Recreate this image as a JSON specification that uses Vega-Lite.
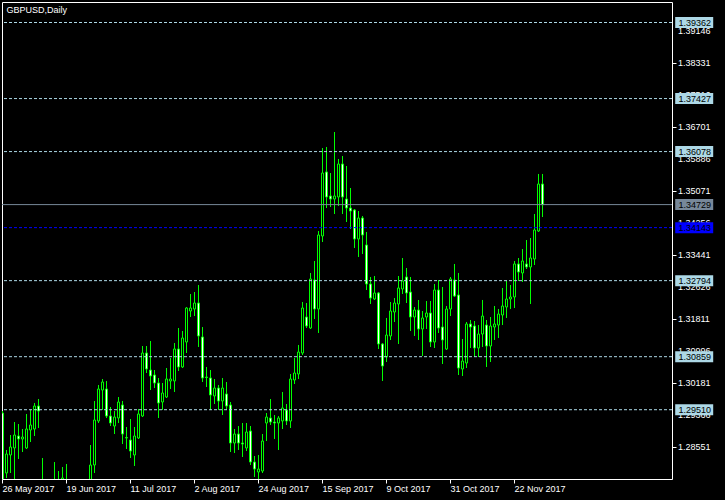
{
  "$schema": "https://vega.github.io/schema/vega-lite/v6.json",
  "background": "black",
  "padding": {"left": 1, "top": 1, "right": 14, "bottom": 10},
  "bounds": "flush",
  "spacing": 0,
  "config": {
    "font": "Liberation Sans",
    "view": {"stroke": "white", "strokeWidth": 1}
  },
  "datasets": {
    "candles": [
      {"date":"2017-05-26","open":1.29426,"high":1.29477,"low":1.27417,"close":1.27518},
      {"date":"2017-05-29","open":1.27900,"high":1.28485,"low":1.27772,"close":1.28383},
      {"date":"2017-05-30","open":1.28358,"high":1.28866,"low":1.27900,"close":1.28561},
      {"date":"2017-05-31","open":1.28536,"high":1.29197,"low":1.27594,"close":1.28866},
      {"date":"2017-06-01","open":1.28841,"high":1.29146,"low":1.28256,"close":1.28765},
      {"date":"2017-06-02","open":1.28765,"high":1.29019,"low":1.28434,"close":1.28815},
      {"date":"2017-06-05","open":1.28536,"high":1.29401,"low":1.28510,"close":1.29019},
      {"date":"2017-06-06","open":1.28994,"high":1.29503,"low":1.28688,"close":1.29121},
      {"date":"2017-06-07","open":1.29019,"high":1.29681,"low":1.28841,"close":1.29604},
      {"date":"2017-06-08","open":1.29604,"high":1.29782,"low":1.29045,"close":1.29477},
      {"date":"2017-06-09","open":1.27500,"high":1.28281,"low":1.26350,"close":1.27450},
      {"date":"2017-06-12","open":1.27450,"high":1.27600,"low":1.26400,"close":1.26550},
      {"date":"2017-06-13","open":1.26550,"high":1.27550,"low":1.26250,"close":1.27400},
      {"date":"2017-06-14","open":1.27400,"high":1.28179,"low":1.26950,"close":1.27500},
      {"date":"2017-06-15","open":1.27500,"high":1.27950,"low":1.26900,"close":1.27450},
      {"date":"2017-06-16","open":1.27450,"high":1.28052,"low":1.27250,"close":1.27772},
      {"date":"2017-06-19","open":1.27720,"high":1.28129,"low":1.27050,"close":1.27150},
      {"date":"2017-06-20","open":1.27150,"high":1.27600,"low":1.26200,"close":1.26250},
      {"date":"2017-06-21","open":1.26250,"high":1.26900,"low":1.25900,"close":1.26700},
      {"date":"2017-06-22","open":1.26700,"high":1.27300,"low":1.26400,"close":1.26650},
      {"date":"2017-06-23","open":1.26650,"high":1.27550,"low":1.26500,"close":1.27300},
      {"date":"2017-06-26","open":1.27300,"high":1.27650,"low":1.26900,"close":1.27150},
      {"date":"2017-06-27","open":1.27200,"high":1.28612,"low":1.27000,"close":1.28103},
      {"date":"2017-06-28","open":1.28103,"high":1.29732,"low":1.27900,"close":1.29248},
      {"date":"2017-06-29","open":1.29223,"high":1.30139,"low":1.29172,"close":1.30037},
      {"date":"2017-06-30","open":1.30011,"high":1.30291,"low":1.29503,"close":1.30215},
      {"date":"2017-07-03","open":1.30037,"high":1.30241,"low":1.29299,"close":1.29350},
      {"date":"2017-07-04","open":1.29350,"high":1.29579,"low":1.29095,"close":1.29172},
      {"date":"2017-07-05","open":1.29095,"high":1.29477,"low":1.28892,"close":1.29324},
      {"date":"2017-07-06","open":1.29299,"high":1.29833,"low":1.29172,"close":1.29706},
      {"date":"2017-07-07","open":1.29630,"high":1.29732,"low":1.28637,"close":1.28892},
      {"date":"2017-07-10","open":1.28800,"high":1.29070,"low":1.28510,"close":1.28790},
      {"date":"2017-07-11","open":1.28739,"high":1.29274,"low":1.28281,"close":1.28459},
      {"date":"2017-07-12","open":1.28358,"high":1.29070,"low":1.28078,"close":1.28841},
      {"date":"2017-07-13","open":1.28790,"high":1.29528,"low":1.28765,"close":1.29401},
      {"date":"2017-07-14","open":1.29350,"high":1.31131,"low":1.29324,"close":1.30953},
      {"date":"2017-07-17","open":1.30953,"high":1.31131,"low":1.30444,"close":1.30546},
      {"date":"2017-07-18","open":1.30520,"high":1.31258,"low":1.30011,"close":1.30368},
      {"date":"2017-07-19","open":1.30393,"high":1.30520,"low":1.30062,"close":1.30190},
      {"date":"2017-07-20","open":1.30190,"high":1.30317,"low":1.29299,"close":1.29681},
      {"date":"2017-07-21","open":1.29706,"high":1.30190,"low":1.29503,"close":1.29935},
      {"date":"2017-07-24","open":1.29833,"high":1.30571,"low":1.29808,"close":1.30291},
      {"date":"2017-07-25","open":1.30241,"high":1.30826,"low":1.30037,"close":1.30291},
      {"date":"2017-07-26","open":1.30241,"high":1.31207,"low":1.29961,"close":1.31055},
      {"date":"2017-07-27","open":1.31055,"high":1.31589,"low":1.30495,"close":1.30597},
      {"date":"2017-07-28","open":1.30597,"high":1.31513,"low":1.30571,"close":1.31335},
      {"date":"2017-07-31","open":1.31233,"high":1.32123,"low":1.30953,"close":1.32098},
      {"date":"2017-08-01","open":1.32022,"high":1.32454,"low":1.31869,"close":1.32098},
      {"date":"2017-08-02","open":1.32072,"high":1.32505,"low":1.31894,"close":1.32225},
      {"date":"2017-08-03","open":1.32225,"high":1.32683,"low":1.31106,"close":1.31386},
      {"date":"2017-08-04","open":1.31360,"high":1.31614,"low":1.30215,"close":1.30317},
      {"date":"2017-08-07","open":1.30342,"high":1.30597,"low":1.30088,"close":1.30330},
      {"date":"2017-08-08","open":1.30317,"high":1.30520,"low":1.29503,"close":1.29884},
      {"date":"2017-08-09","open":1.29859,"high":1.30291,"low":1.29655,"close":1.30062},
      {"date":"2017-08-10","open":1.30062,"high":1.30139,"low":1.29503,"close":1.29732},
      {"date":"2017-08-11","open":1.29732,"high":1.30317,"low":1.29375,"close":1.30062},
      {"date":"2017-08-14","open":1.29910,"high":1.30215,"low":1.29503,"close":1.29604},
      {"date":"2017-08-15","open":1.29630,"high":1.29706,"low":1.28434,"close":1.28663},
      {"date":"2017-08-16","open":1.28663,"high":1.29019,"low":1.28408,"close":1.28892},
      {"date":"2017-08-17","open":1.28892,"high":1.29095,"low":1.28485,"close":1.28663},
      {"date":"2017-08-18","open":1.28663,"high":1.29172,"low":1.28307,"close":1.28637},
      {"date":"2017-08-21","open":1.28536,"high":1.29172,"low":1.28459,"close":1.28943},
      {"date":"2017-08-22","open":1.28968,"high":1.29095,"low":1.28103,"close":1.28179},
      {"date":"2017-08-23","open":1.28179,"high":1.28332,"low":1.27798,"close":1.28001},
      {"date":"2017-08-24","open":1.27925,"high":1.28358,"low":1.27720,"close":1.28001},
      {"date":"2017-08-25","open":1.27950,"high":1.28892,"low":1.27900,"close":1.28714},
      {"date":"2017-08-28","open":1.29172,"high":1.29426,"low":1.28714,"close":1.29324},
      {"date":"2017-08-29","open":1.29299,"high":1.29782,"low":1.29121,"close":1.29197},
      {"date":"2017-08-30","open":1.29197,"high":1.29375,"low":1.28765,"close":1.29172},
      {"date":"2017-08-31","open":1.29172,"high":1.29350,"low":1.28485,"close":1.29299},
      {"date":"2017-09-01","open":1.29223,"high":1.29961,"low":1.29019,"close":1.29553},
      {"date":"2017-09-04","open":1.29503,"high":1.29655,"low":1.29121,"close":1.29223},
      {"date":"2017-09-05","open":1.29223,"high":1.30419,"low":1.29045,"close":1.30291},
      {"date":"2017-09-06","open":1.30266,"high":1.30826,"low":1.30164,"close":1.30444},
      {"date":"2017-09-07","open":1.30419,"high":1.31157,"low":1.30291,"close":1.30978},
      {"date":"2017-09-08","open":1.30953,"high":1.32251,"low":1.30902,"close":1.32098},
      {"date":"2017-09-11","open":1.31869,"high":1.32225,"low":1.31589,"close":1.31640},
      {"date":"2017-09-12","open":1.31589,"high":1.32989,"low":1.31564,"close":1.32836},
      {"date":"2017-09-13","open":1.32810,"high":1.33294,"low":1.31818,"close":1.32072},
      {"date":"2017-09-14","open":1.32072,"high":1.34057,"low":1.31462,"close":1.33955},
      {"date":"2017-09-15","open":1.33930,"high":1.36169,"low":1.33777,"close":1.35533},
      {"date":"2017-09-18","open":1.35559,"high":1.36195,"low":1.34642,"close":1.34922},
      {"date":"2017-09-19","open":1.34948,"high":1.35533,"low":1.34668,"close":1.34871},
      {"date":"2017-09-20","open":1.34871,"high":1.36576,"low":1.34490,"close":1.34948},
      {"date":"2017-09-21","open":1.34922,"high":1.35889,"low":1.34693,"close":1.35762},
      {"date":"2017-09-22","open":1.35762,"high":1.35966,"low":1.34490,"close":1.34922},
      {"date":"2017-09-25","open":1.34871,"high":1.35711,"low":1.34286,"close":1.34642},
      {"date":"2017-09-26","open":1.34642,"high":1.35151,"low":1.34108,"close":1.34566},
      {"date":"2017-09-27","open":1.34592,"high":1.34617,"low":1.33625,"close":1.33854},
      {"date":"2017-09-28","open":1.33854,"high":1.34566,"low":1.33396,"close":1.34388},
      {"date":"2017-09-29","open":1.34388,"high":1.34439,"low":1.33472,"close":1.33955},
      {"date":"2017-10-02","open":1.33701,"high":1.34032,"low":1.32556,"close":1.32709},
      {"date":"2017-10-03","open":1.32709,"high":1.32887,"low":1.32200,"close":1.32352},
      {"date":"2017-10-04","open":1.32327,"high":1.32912,"low":1.32302,"close":1.32480},
      {"date":"2017-10-05","open":1.32480,"high":1.32505,"low":1.31055,"close":1.31182},
      {"date":"2017-10-06","open":1.31182,"high":1.31207,"low":1.30241,"close":1.30622},
      {"date":"2017-10-09","open":1.30851,"high":1.31844,"low":1.30724,"close":1.31411},
      {"date":"2017-10-10","open":1.31386,"high":1.32251,"low":1.31284,"close":1.32022},
      {"date":"2017-10-11","open":1.31996,"high":1.32352,"low":1.31742,"close":1.32225},
      {"date":"2017-10-12","open":1.32200,"high":1.32912,"low":1.31182,"close":1.32607},
      {"date":"2017-10-13","open":1.32581,"high":1.33370,"low":1.32454,"close":1.32785},
      {"date":"2017-10-16","open":1.32887,"high":1.33116,"low":1.32225,"close":1.32480},
      {"date":"2017-10-17","open":1.32505,"high":1.32887,"low":1.31513,"close":1.31869},
      {"date":"2017-10-18","open":1.31869,"high":1.32123,"low":1.31386,"close":1.32047},
      {"date":"2017-10-19","open":1.32047,"high":1.32302,"low":1.31284,"close":1.31564},
      {"date":"2017-10-20","open":1.31564,"high":1.32022,"low":1.30877,"close":1.31844},
      {"date":"2017-10-23","open":1.31869,"high":1.32276,"low":1.31564,"close":1.31971},
      {"date":"2017-10-24","open":1.31971,"high":1.32276,"low":1.31106,"close":1.31233},
      {"date":"2017-10-25","open":1.31233,"high":1.32709,"low":1.31080,"close":1.32556},
      {"date":"2017-10-26","open":1.32556,"high":1.32810,"low":1.31462,"close":1.31589},
      {"date":"2017-10-27","open":1.31614,"high":1.32632,"low":1.30673,"close":1.31284},
      {"date":"2017-10-30","open":1.31055,"high":1.32149,"low":1.31029,"close":1.32072},
      {"date":"2017-10-31","open":1.32072,"high":1.32887,"low":1.31894,"close":1.32836},
      {"date":"2017-11-01","open":1.32810,"high":1.33218,"low":1.32378,"close":1.32403},
      {"date":"2017-11-02","open":1.32429,"high":1.32989,"low":1.30393,"close":1.30571},
      {"date":"2017-11-03","open":1.30546,"high":1.31309,"low":1.30368,"close":1.30749},
      {"date":"2017-11-06","open":1.30698,"high":1.31742,"low":1.30571,"close":1.31691},
      {"date":"2017-11-07","open":1.31691,"high":1.31793,"low":1.31080,"close":1.31614},
      {"date":"2017-11-08","open":1.31640,"high":1.31767,"low":1.30851,"close":1.31080},
      {"date":"2017-11-09","open":1.31080,"high":1.31665,"low":1.30851,"close":1.31436},
      {"date":"2017-11-10","open":1.31436,"high":1.32302,"low":1.31106,"close":1.31894},
      {"date":"2017-11-13","open":1.31665,"high":1.31793,"low":1.30597,"close":1.31131},
      {"date":"2017-11-14","open":1.31131,"high":1.31869,"low":1.30724,"close":1.31640},
      {"date":"2017-11-15","open":1.31614,"high":1.32149,"low":1.31284,"close":1.31691},
      {"date":"2017-11-16","open":1.31665,"high":1.32072,"low":1.31335,"close":1.31945},
      {"date":"2017-11-17","open":1.31920,"high":1.32607,"low":1.31665,"close":1.32149},
      {"date":"2017-11-20","open":1.32123,"high":1.32785,"low":1.31844,"close":1.32327},
      {"date":"2017-11-21","open":1.32327,"high":1.32683,"low":1.32072,"close":1.32378},
      {"date":"2017-11-22","open":1.32378,"high":1.33294,"low":1.32098,"close":1.33218},
      {"date":"2017-11-23","open":1.33218,"high":1.33370,"low":1.32785,"close":1.33014},
      {"date":"2017-11-24","open":1.32989,"high":1.33599,"low":1.32760,"close":1.33294},
      {"date":"2017-11-27","open":1.33218,"high":1.33828,"low":1.33090,"close":1.33141},
      {"date":"2017-11-28","open":1.33141,"high":1.33879,"low":1.32200,"close":1.33370},
      {"date":"2017-11-29","open":1.33345,"high":1.34490,"low":1.33192,"close":1.34083},
      {"date":"2017-11-30","open":1.34057,"high":1.35508,"low":1.34032,"close":1.35253},
      {"date":"2017-12-01","open":1.35253,"high":1.35508,"low":1.34413,"close":1.34729}
    ],
    "levels": [
      {"price": 1.39362, "kind": "level"},
      {"price": 1.37427, "kind": "level"},
      {"price": 1.36078, "kind": "level"},
      {"price": 1.34729, "kind": "bid"},
      {"price": 1.34143, "kind": "alert"},
      {"price": 1.32794, "kind": "level"},
      {"price": 1.30859, "kind": "level"},
      {"price": 1.29510, "kind": "level"}
    ],
    "ticks": [
      {"price": 1.28551}, {"price": 1.29366}, {"price": 1.30181}, {"price": 1.30996},
      {"price": 1.31811}, {"price": 1.32626}, {"price": 1.33441}, {"price": 1.34256},
      {"price": 1.35071}, {"price": 1.35886}, {"price": 1.36701}, {"price": 1.37516},
      {"price": 1.38331}, {"price": 1.39146}
    ]
  },
  "hconcat": [
    {
      "width": 670,
      "height": 477,
      "title": {
        "text": "GBPUSD,Daily",
        "anchor": "start",
        "frame": "group",
        "orient": "top",
        "offset": 0,
        "baseline": "alphabetic",
        "dx": 4.5,
        "dy": 19.7,
        "color": "white",
        "font": "Liberation Sans",
        "fontSize": 9,
        "fontWeight": "normal"
      },
      "layer": [
        {
          "data": {"name": "candles"},
          "mark": {"type": "rule", "color": "#00FF00", "strokeWidth": 1, "clip": true},
          "encoding": {
            "x": {
              "field": "date",
              "type": "ordinal",
              "scale": {"type": "band", "range": [-1.5, 542.5], "paddingInner": 0, "paddingOuter": 0},
              "axis": {
                "title": null,
                "orient": "bottom",
                "values": ["2017-05-26","2017-06-19","2017-07-11","2017-08-02","2017-08-24","2017-09-15","2017-10-09","2017-10-31","2017-11-22"],
                "labelExpr": "utcFormat(toDate(datum.value), '%-d %b %Y')",
                "labelAlign": "left",
                "labelBaseline": "top",
                "labelPadding": 1,
                "labelAngle": 0,
                "tickSize": 4,
                "tickColor": "white",
                "labelColor": "white",
                "labelFont": "Liberation Sans",
                "labelFontSize": 9,
                "domain": false,
                "grid": false,
                "labelOverlap": false,
                "labelFlush": false
              }
            },
            "y": {
              "field": "low",
              "type": "quantitative",
              "scale": {"domain": [1.27747, 1.39884], "nice": false, "zero": false},
              "axis": {
                "title": null,
                "orient": "right",
                "values": [1.28551,1.29366,1.30181,1.30996,1.31811,1.32626,1.33441,1.34256,1.35071,1.35886,1.36701,1.37516,1.38331,1.39146],
                "labels": false,
                "tickSize": 4,
                "tickColor": "white",
                "domain": false,
                "grid": false
              }
            },
            "y2": {"field": "high"}
          }
        },
        {
          "data": {"name": "candles"},
          "mark": {"type": "bar", "width": 2, "stroke": "#00FF00", "strokeWidth": 1, "clip": true},
          "encoding": {
            "x": {"field": "date", "type": "ordinal"},
            "y": {"field": "open", "type": "quantitative"},
            "y2": {"field": "close"},
            "fill": {"condition": {"test": "datum.open > datum.close", "value": "white"}, "value": "black"}
          }
        },
        {
          "data": {"name": "levels"},
          "mark": {"type": "rule", "strokeWidth": 1},
          "encoding": {
            "y": {"field": "price", "type": "quantitative"},
            "color": {"field": "kind", "type": "nominal", "scale": {"domain": ["level", "bid", "alert"], "range": ["#ADD8E6", "#778899", "#0000FF"]}, "legend": null},
            "strokeDash": {"field": "kind", "type": "nominal", "scale": {"domain": ["level", "bid", "alert"], "range": [[3, 2], [1, 0], [3, 2]]}, "legend": null}
          }
        }
      ]
    },
    {
      "width": 51,
      "height": 477,
      "view": {"stroke": "transparent"},
      "layer": [
        {
          "data": {"name": "ticks"},
          "mark": {"type": "text", "align": "left", "baseline": "middle", "fontSize": 9, "font": "Liberation Sans", "color": "white"},
          "encoding": {
            "x": {"datum": 6, "type": "quantitative", "scale": {"domain": [0, 51], "nice": false, "zero": false}, "axis": null},
            "y": {"field": "price", "type": "quantitative", "scale": {"domain": [1.27747, 1.39884], "nice": false, "zero": false}, "axis": null},
            "text": {"field": "price", "type": "quantitative", "format": ".5f"}
          }
        },
        {
          "data": {"name": "levels"},
          "mark": {"type": "tick", "orient": "horizontal", "size": 38, "thickness": 11, "filled": true, "opacity": 1},
          "encoding": {
            "x": {"datum": 22.2, "type": "quantitative"},
            "y": {"field": "price", "type": "quantitative"},
            "color": {"field": "kind", "type": "nominal", "scale": {"domain": ["level", "bid", "alert"], "range": ["#ADD8E6", "#778899", "#0000FF"]}, "legend": null}
          }
        },
        {
          "data": {"name": "levels"},
          "mark": {"type": "text", "align": "left", "baseline": "middle", "fontSize": 9, "font": "Liberation Sans", "color": "black"},
          "encoding": {
            "x": {"datum": 6.5, "type": "quantitative"},
            "y": {"field": "price", "type": "quantitative"},
            "text": {"field": "price", "type": "quantitative", "format": ".5f"}
          }
        }
      ]
    }
  ]
}
